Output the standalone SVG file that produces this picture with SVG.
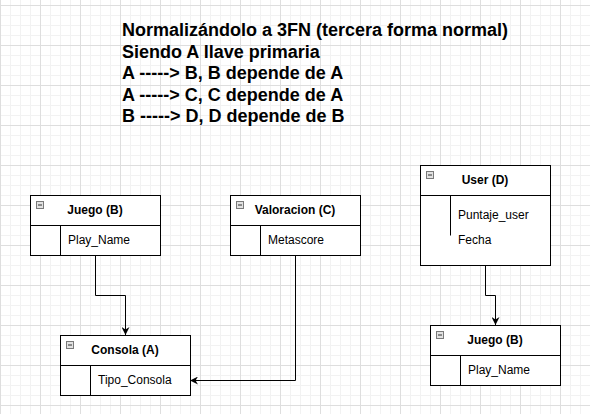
<svg xmlns="http://www.w3.org/2000/svg" width="590" height="414" viewBox="0 0 590 414">
  <style>
    .box { fill: #ffffff; stroke: #000000; stroke-width: 1; }
    .ln { fill: none; stroke: #000000; stroke-width: 1; }
    .title { font-family: "Liberation Sans", Arial, sans-serif; font-size: 12px; font-weight: bold; fill: #000; text-anchor: middle; }
    .attr { font-family: "Liberation Sans", Arial, sans-serif; font-size: 12px; fill: #000; }
    .head { font-family: "Liberation Sans", Arial, sans-serif; font-size: 18px; font-weight: bold; fill: #000; }
    .icon { fill: #e2e2e2; stroke: #7a7a7a; stroke-width: 1; }
    .dash { stroke: #333; stroke-width: 1; }
    .conn { fill: none; stroke: #000; stroke-width: 1; marker-end: url(#arrow); }
  </style>
  <defs>
    <pattern id="grid" patternUnits="userSpaceOnUse" x="0" y="5" width="40" height="40">
      <rect x="0" y="0" width="40" height="40" fill="#ffffff"/>
      <rect x="10" y="0" width="1" height="40" fill="#f2f2f2"/>
      <rect x="20" y="0" width="1" height="40" fill="#f2f2f2"/>
      <rect x="30" y="0" width="1" height="40" fill="#f2f2f2"/>
      <rect x="0" y="10" width="40" height="1" fill="#f2f2f2"/>
      <rect x="0" y="20" width="40" height="1" fill="#f2f2f2"/>
      <rect x="0" y="30" width="40" height="1" fill="#f2f2f2"/>
      <rect x="0" y="0" width="1" height="40" fill="#dedede"/>
      <rect x="0" y="0" width="40" height="1" fill="#dedede"/>
    </pattern>
    <marker id="arrow" markerUnits="userSpaceOnUse" viewBox="0 0 10 10" refX="10" refY="5" markerWidth="8" markerHeight="8" orient="auto">
      <path d="M0,0 L10,5 L0,10 L3,5 Z" fill="#000"/>
    </marker>
  </defs>
  <rect x="0" y="0" width="590" height="414" fill="url(#grid)"/>

  <g id="heading">
    <text class="head" x="122" y="36">Normalizándolo a 3FN (tercera forma normal)</text>
    <text class="head" x="122" y="57.6">Siendo A llave primaria</text>
    <text class="head" x="122" y="79.2">A -----&gt; B, B depende de A</text>
    <text class="head" x="122" y="100.8">A -----&gt; C, C depende de A</text>
    <text class="head" x="122" y="122.4">B -----&gt; D, D depende de B</text>
  </g>

  <g id="connectors">
    <path class="conn" d="M95.5,255 L95.5,295.5 L125.5,295.5 L125.5,335"/>
    <path class="conn" d="M295.5,255 L295.5,380.5 L190,380.5"/>
    <path class="conn" d="M485.5,265 L485.5,295.5 L495.5,295.5 L495.5,325"/>
  </g>

  <g id="juego-b-left">
    <rect class="box" x="30.5" y="195.5" width="130" height="60"/>
    <line class="ln" x1="30.5" y1="225.5" x2="160.5" y2="225.5"/>
    <line class="ln" x1="60.5" y1="225.5" x2="60.5" y2="255.5"/>
    <rect class="icon" x="36.5" y="201.5" width="7" height="7"/>
    <line class="dash" x1="38" y1="205" x2="42" y2="205"/>
    <text class="title" x="95" y="214">Juego (B)</text>
    <text class="attr" x="68" y="244">Play_Name</text>
  </g>

  <g id="valoracion-c">
    <rect class="box" x="230.5" y="195.5" width="130" height="60"/>
    <line class="ln" x1="230.5" y1="225.5" x2="360.5" y2="225.5"/>
    <line class="ln" x1="260.5" y1="225.5" x2="260.5" y2="255.5"/>
    <rect class="icon" x="236.5" y="201.5" width="7" height="7"/>
    <line class="dash" x1="238" y1="205" x2="242" y2="205"/>
    <text class="title" x="295" y="214">Valoracion (C)</text>
    <text class="attr" x="268" y="244">Metascore</text>
  </g>

  <g id="user-d">
    <rect class="box" x="420.5" y="165.5" width="130" height="100"/>
    <line class="ln" x1="420.5" y1="195.5" x2="550.5" y2="195.5"/>
    <line class="ln" x1="450.5" y1="195.5" x2="450.5" y2="235.5"/>
    <rect class="icon" x="426.5" y="171.5" width="7" height="7"/>
    <line class="dash" x1="428" y1="175" x2="432" y2="175"/>
    <text class="title" x="485" y="184">User (D)</text>
    <text class="attr" x="458" y="219">Puntaje_user</text>
    <text class="attr" x="458" y="244">Fecha</text>
  </g>

  <g id="consola-a">
    <rect class="box" x="60.5" y="335.5" width="130" height="60"/>
    <line class="ln" x1="60.5" y1="365.5" x2="190.5" y2="365.5"/>
    <line class="ln" x1="90.5" y1="365.5" x2="90.5" y2="395.5"/>
    <rect class="icon" x="66.5" y="341.5" width="7" height="7"/>
    <line class="dash" x1="68" y1="345" x2="72" y2="345"/>
    <text class="title" x="125" y="354">Consola (A)</text>
    <text class="attr" x="98" y="384">Tipo_Consola</text>
  </g>

  <g id="juego-b-right">
    <rect class="box" x="430.5" y="325.5" width="130" height="60"/>
    <line class="ln" x1="430.5" y1="355.5" x2="560.5" y2="355.5"/>
    <line class="ln" x1="460.5" y1="355.5" x2="460.5" y2="385.5"/>
    <rect class="icon" x="436.5" y="331.5" width="7" height="7"/>
    <line class="dash" x1="438" y1="335" x2="442" y2="335"/>
    <text class="title" x="495" y="344">Juego (B)</text>
    <text class="attr" x="468" y="374">Play_Name</text>
  </g>
</svg>
